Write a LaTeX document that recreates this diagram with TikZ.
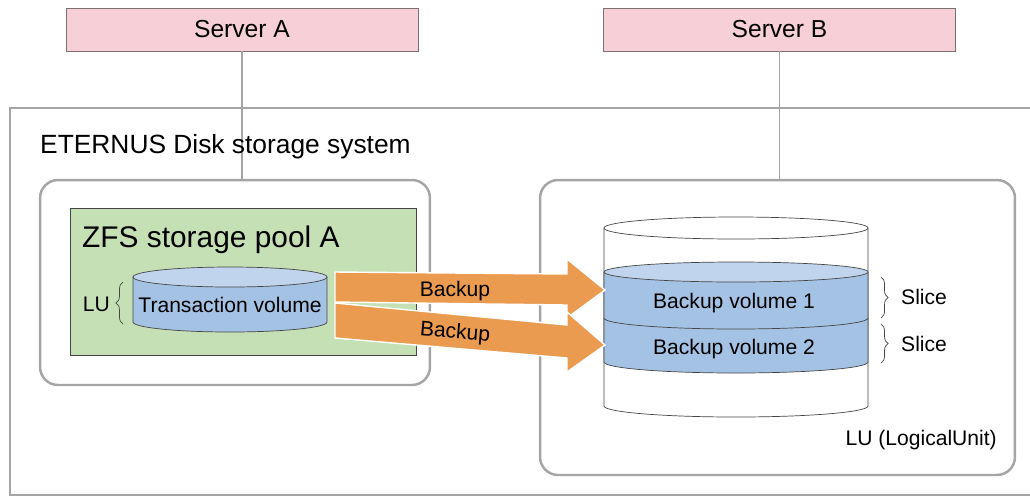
\documentclass[tikz,border=0pt]{standalone}
\usepackage{fontspec}
\setmainfont{Liberation Sans}
\usetikzlibrary{arrows.meta,positioning,decorations.pathreplacing,calc}
\definecolor{srvpink}{RGB}{247,208,215}
\definecolor{srvline}{RGB}{125,112,115}
\definecolor{boxgray}{RGB}{165,165,165}
\definecolor{poolgreen}{RGB}{197,224,180}
\definecolor{volblue}{RGB}{164,194,228}
\definecolor{voltop}{RGB}{192,212,237}
\definecolor{bkorange}{RGB}{235,155,80}
\definecolor{edge}{RGB}{70,70,70}

\begin{document}
\begin{tikzpicture}[x=0.02cm,y=-0.02cm,font=\fontsize{12}{14}\selectfont,
  srvbox/.style={draw=srvline,fill=srvpink,minimum width=7.04cm,minimum height=0.86cm,font=\fontsize{14}{16}\selectfont},
  lubox/.style={draw=boxgray,line width=1.4pt,rounded corners=0.36cm,fill=white},
  bkarrow/.style={fill=bkorange,draw=white,line width=0.8pt},
  brc/.style={decorate,decoration={brace,amplitude=4pt},draw=edge,thin}]
\useasboundingbox (0,0) rectangle (1030,498);
% servers
\node[srvbox] (srvA) at (242,29.5) {Server A};
\node[srvbox] (srvB) at (779.5,29.5) {Server B};
% storage system
\draw[boxgray,line width=0.9pt] (1030,108) -- (10,108) -- (10,495) -- (1030,495);
\node[lubox,minimum width=7.8cm,minimum height=4.1cm] (leftbox) at (235,282.5) {};
\node[lubox,minimum width=9.5cm,minimum height=5.9cm] (rightbox) at (777.5,327.5) {};
\draw[boxgray,line width=1pt] (srvA.south) -- (srvA.south |- leftbox.north);
\draw[boxgray,line width=1pt] (srvB.south) -- (srvB.south |- rightbox.north);
\node[anchor=west,font=\fontsize{15}{17}\selectfont] (eternus) at (34,147) {ETERNUS Disk storage system};
% pool A
\node[draw=edge,fill=poolgreen,thin,minimum width=6.92cm,minimum height=2.94cm] (pool) at (243,281.5) {};
\node[anchor=west,font=\fontsize{17}{19}\selectfont] (zfs) at (76,240) {ZFS storage pool A};
\fill[volblue] (133,277) -- (133,322) arc[start angle=180,end angle=0,x radius=97,y radius=10] -- (327,277) -- cycle;
\draw[edge] (133,277) -- (133,322) arc[start angle=180,end angle=0,x radius=97,y radius=10] -- (327,277);
\draw[edge,fill=voltop] (230,277) ellipse[x radius=97,y radius=10];
\node (tvol) at (230,305) {Transaction volume};
\draw[brc] (123,324) -- (123,282);
\node[anchor=east] (lu) at (116,304) {LU};
% LU on server B side
\draw[edge,fill=white] (604,228) -- (604,406) arc[start angle=180,end angle=0,x radius=132,y radius=11] -- (868,228);
\draw[edge,fill=white] (736,228) ellipse[x radius=132,y radius=11];
\fill[volblue] (604,272) -- (604,362) arc[start angle=180,end angle=0,x radius=132,y radius=11] -- (868,272) -- cycle;
\draw[edge] (604,272) -- (604,362) arc[start angle=180,end angle=0,x radius=132,y radius=11] -- (868,272);
\draw[edge,fill=voltop] (736,272) ellipse[x radius=132,y radius=10];
\draw[edge] (604,318) arc[start angle=180,end angle=0,x radius=132,y radius=11];
\node (bv1) at (734,303) {Backup volume 1};
\node (bv2) at (734,349) {Backup volume 2};
\draw[brc] (881,277) -- (881,318);
\draw[brc] (881,324) -- (881,363);
\node[anchor=west] (slc1) at (895,297) {Slice};
\node[anchor=west] (slc2) at (895,344) {Slice};
\node[anchor=east] (lunit) at (1003,440) {LU (LogicalUnit)};
% backup arrows
\draw[bkarrow] (335,272) -- (567,274) -- (567,259) -- (605,290) -- (567,318) -- (567,305) -- (335,302) -- cycle;
\draw[bkarrow] (335,303) -- (567,325) -- (567,312) -- (605,345) -- (567,372) -- (567,358) -- (335,338) -- cycle;
\node (bk1) at (455,291) {Backup};
\node[rotate=-5] (bk2) at (455,333) {Backup};
\end{tikzpicture}
\end{document}
